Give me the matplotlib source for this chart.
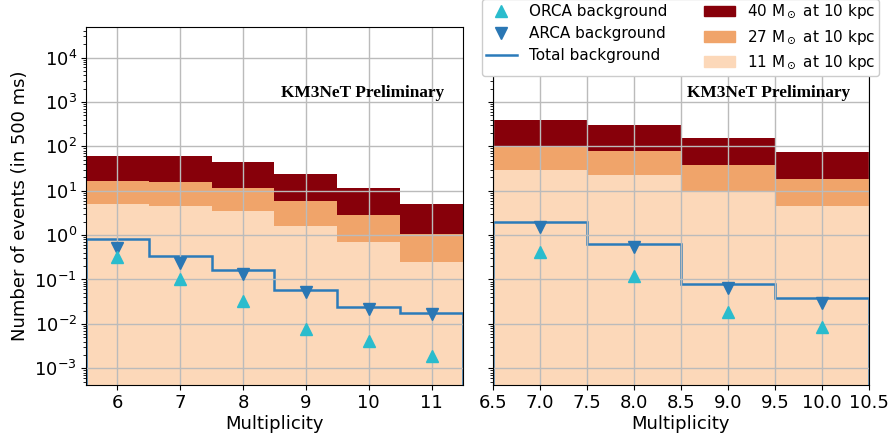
import numpy as np
import matplotlib
matplotlib.use("Agg")
import matplotlib.pyplot as plt
from matplotlib.patches import Patch
from matplotlib.lines import Line2D

# left panel: multiplicity 6..11
mult_l = [6, 7, 8, 9, 10, 11]
sn40_l = [59, 62, 44, 24, 11.5, 5.0]
sn27_l = [16.2, 15.6, 11.5, 5.8, 2.8, 1.07]
sn11_l = [5.0, 4.6, 3.5, 1.6, 0.69, 0.245]
total_l = [0.80, 0.335, 0.164, 0.059, 0.024, 0.0178]
arca_l = [0.52, 0.24, 0.136, 0.053, 0.0216, 0.017]
orca_l = [0.32, 0.10, 0.032, 0.0077, 0.0041, 0.0019]

# right panel: multiplicity 7..10
mult_r = [7, 8, 9, 10]
sn40_r = [390, 295, 152, 76]
sn27_r = [100, 77, 37, 18]
sn11_r = [29.5, 22.6, 10.0, 4.6]
total_r = [1.97, 0.64, 0.078, 0.038]
arca_r = [1.55, 0.54, 0.063, 0.030]
orca_r = [0.41, 0.12, 0.019, 0.0087]

c40 = "#87000a"
c27 = "#f0a46a"
c11 = "#fcd8b9"
c_tot = "#2b7bba"
c_arca = "#2a77b4"
c_orca = "#2abccd"

plt.rcParams["font.family"] = "DejaVu Sans"

fig = plt.figure(figsize=(8.92, 4.41), dpi=100)
ax1 = fig.add_axes([0.0964, 0.127, 0.4226, 0.812])
ax2 = fig.add_axes([0.5527, 0.127, 0.4215, 0.812], sharey=ax1)


def draw(ax, mult, sn40, sn27, sn11, total, arca, orca):
    edges = np.append(np.array(mult) - 0.5, mult[-1] + 0.5)
    ax.stairs(sn40, edges, baseline=1e-5, fill=True, color=c40)
    ax.stairs(sn27, edges, baseline=1e-5, fill=True, color=c27)
    ax.stairs(sn11, edges, baseline=1e-5, fill=True, color=c11)
    ax.stairs(total, edges, baseline=1e-5, color=c_tot, lw=1.8)
    ax.plot(mult, arca, "v", color=c_arca, ms=8.5, ls="none")
    ax.plot(mult, orca, "^", color=c_orca, ms=8.5, ls="none")
    ax.set_yscale("log")
    ax.set_xlim(edges[0], edges[-1])
    ax.grid(True, color="#bbbbbb", lw=1)
    ax.set_xlabel("Multiplicity", fontsize=13, labelpad=2)
    ax.tick_params(labelsize=13, pad=3)
    ax.text(0.95, 0.815, "KM3NeT Preliminary", transform=ax.transAxes,
            ha="right", va="center", fontsize=12.4, fontweight="bold",
            family="Liberation Serif")


draw(ax1, mult_l, sn40_l, sn27_l, sn11_l, total_l, arca_l, orca_l)
draw(ax2, mult_r, sn40_r, sn27_r, sn11_r, total_r, arca_r, orca_r)

ax1.set_ylim(4.2e-4, 4.9e4)
ax1.set_xticks(mult_l)
ax2.set_xticks(np.arange(6.5, 10.51, 0.5))
ax2.tick_params(axis="y", labelleft=False)
ax1.set_ylabel("Number of events (in 500 ms)", fontsize=13)

handles = [
    Line2D([], [], marker="^", color=c_orca, ls="none", ms=8.5),
    Line2D([], [], marker="v", color=c_arca, ls="none", ms=8.5),
    Line2D([], [], color=c_tot, lw=1.8),
    Patch(color=c40),
    Patch(color=c27),
    Patch(color=c11),
]
labels = ["ORCA background", "ARCA background", "Total background",
          r"40 M$_\odot$ at 10 kpc", r"27 M$_\odot$ at 10 kpc",
          r"11 M$_\odot$ at 10 kpc"]
fig.legend(handles, labels, ncol=2, loc="lower right", fontsize=11,
           bbox_to_anchor=(879 / 892, 1 - 76 / 441), borderaxespad=0,
           borderpad=0.25, labelspacing=0.45, columnspacing=2.4,
           handlelength=2.0, framealpha=1)

fig.savefig("out.png", dpi=100)
